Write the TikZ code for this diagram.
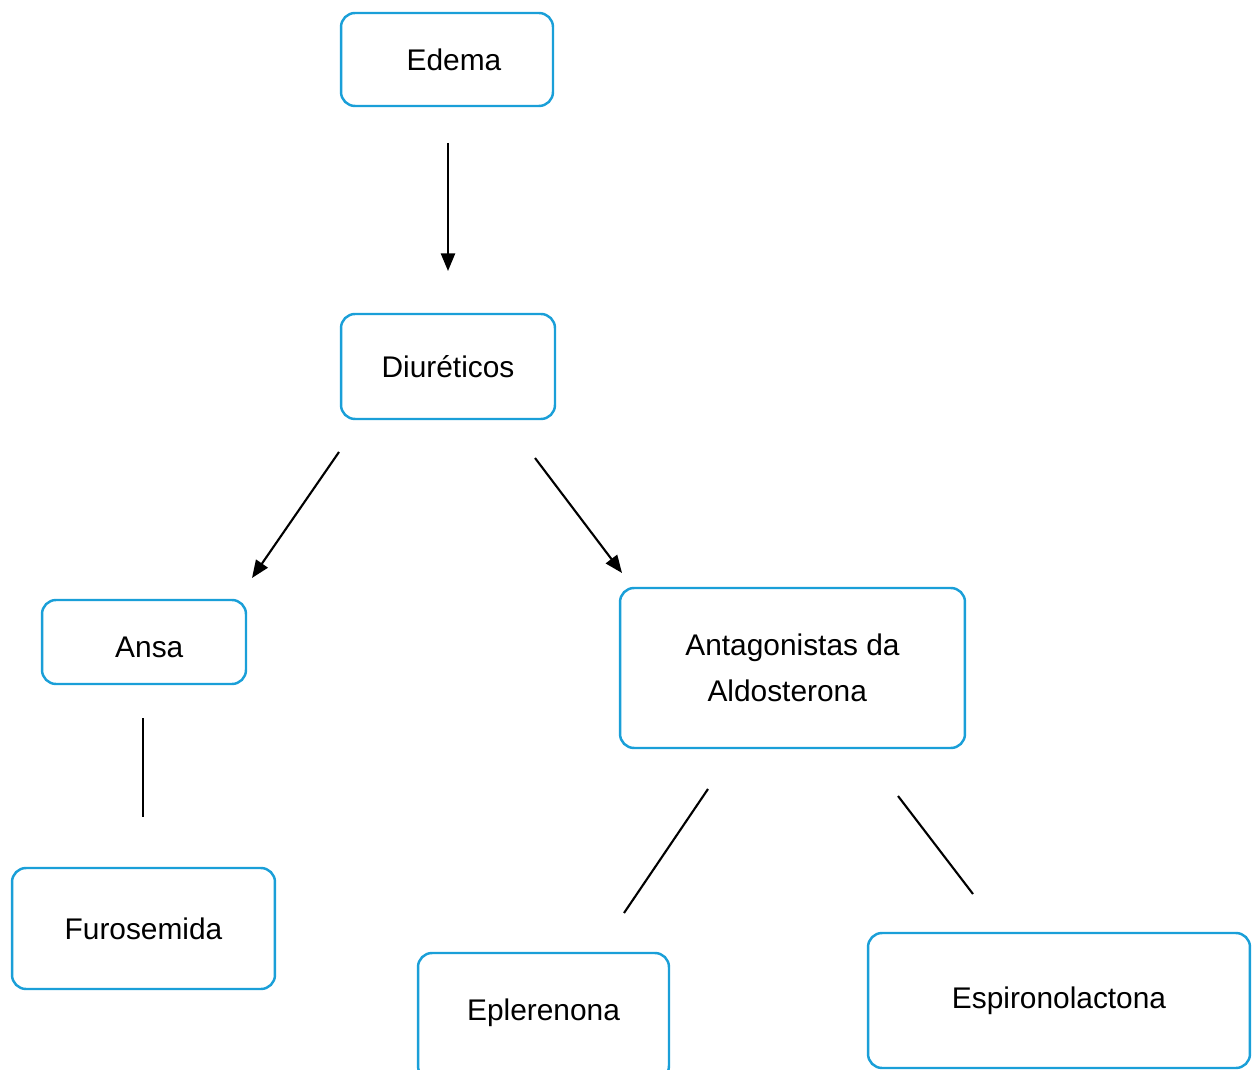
\documentclass[tikz,border=0pt]{standalone}
\usepackage{fontspec}
\setmainfont{Liberation Sans}
\usetikzlibrary{arrows.meta}
\definecolor{boxblue}{RGB}{26,159,216}
\tikzset{
  box/.style={draw=boxblue, line width=1.4pt, rounded corners=0.28cm, fill=white,
    inner sep=0pt, font=\fontsize{17pt}{26pt}\selectfont, align=center},
  arr/.style={line width=1.2pt, -{Triangle[length=10pt,width=8pt]}},
  ln/.style={line width=1.2pt}
}
\begin{document}
\begin{tikzpicture}[x=0.02cm,y=-0.02cm]
\useasboundingbox (0,0) rectangle (1254,1070);
\node[box, minimum width=4.24cm, minimum height=1.86cm] (edema) at (447,59.5) {\hspace*{8pt}Edema};
\node[box, minimum width=4.28cm, minimum height=2.10cm] (diur) at (448,366.5) {Diuréticos};
\node[box, minimum width=4.08cm, minimum height=1.68cm, text height=20pt, text depth=2.2pt] (ansa) at (144,642) {\hspace*{6pt}Ansa};
\node[box, minimum width=6.90cm, minimum height=3.20cm] (anta) at (792.5,668) {Antagonistas da\\Aldosterona\hspace*{6pt}};
\node[box, minimum width=5.26cm, minimum height=2.42cm] (furo) at (143.5,928.5) {Furosemida};
\node[box, minimum width=5.02cm, minimum height=2.54cm, text height=14pt, text depth=9.2pt] (eple) at (543.5,1016.5) {Eplerenona};
\node[box, minimum width=7.64cm, minimum height=2.70cm] (espi) at (1059,1000.5) {Espironolactona};
% connector end points
\coordinate (a1) at (448,143); \coordinate (a2) at (448,271);
\coordinate (b1) at (339,452); \coordinate (b2) at (252,578);
\coordinate (c1) at (535,458); \coordinate (c2) at (622,573);
\coordinate (d1) at (143,718); \coordinate (d2) at (143,817);
\coordinate (e1) at (708,789); \coordinate (e2) at (624,913);
\coordinate (f1) at (898,796); \coordinate (f2) at (973,894);
\draw[arr] (a1) -- (a2);
\draw[arr] (b1) -- (b2);
\draw[arr] (c1) -- (c2);
\draw[ln] (d1) -- (d2);
\draw[ln] (e1) -- (e2);
\draw[ln] (f1) -- (f2);
\end{tikzpicture}
\end{document}
